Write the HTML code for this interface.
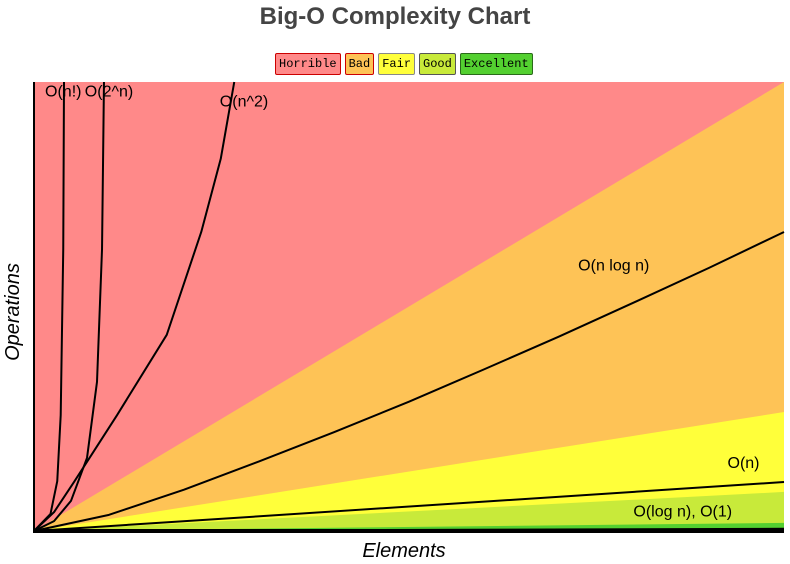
<!DOCTYPE html>
<html><head><meta charset="utf-8"><style>
body{margin:0;background:#fff;width:790px;height:564px;overflow:hidden;font-family:"Liberation Sans",sans-serif}
#title{position:absolute;left:0;width:790px;top:3px;text-align:center;font-weight:bold;font-size:24px;color:#444}
#legend{position:absolute;top:53px;left:275px;display:flex;gap:4px}
.lg{font-family:"Liberation Mono",monospace;font-size:12px;padding:2px 3px;border:1px solid;border-radius:2px;line-height:16px}
</style></head><body>
<div id="title">Big-O Complexity Chart</div>
<div id="legend">
<span class="lg" style="background:#ff8989;border-color:#c00">Horrible</span>
<span class="lg" style="background:#fec356;border-color:#c00">Bad</span>
<span class="lg" style="background:#ffff3a;border-color:#888">Fair</span>
<span class="lg" style="background:#c8ea3a;border-color:#555">Good</span>
<span class="lg" style="background:#53d030;border-color:#2a6a1a">Excellent</span>
</div>
<svg id="chart" width="790" height="564" style="position:absolute;left:0;top:0"></svg>
<script>
const regionTops=[100,26.5,8.7,1.8];
const regionColors=['#fec356','#ffff3a','#c8ea3a','#53d030'];
const factX=[0,2.2,3.1,3.56,3.9,4.0];
const factY=[0,3.8,11.1,25.8,62.8,100];
const expX=[0,2.67,4.93,7.07,8.4,9.07,9.33];
const expY=[0,2.2,6.7,16.3,33.2,62.8,100];
const sqX=[0,2.67,5.33,11.07,17.7,22.3,24.9,26.7];
const sqY=[0,4.2,10.9,25.8,43.7,66.6,82.9,100];
const nlogX=[0,10,20,30,40,50,60,70,80,90,100];
const nlogY=[0,3.6,9.2,15.5,22,28.8,36,43.3,50.9,58.6,66.6];
const linX=[0,100];
const linY=[0,10.9];
const logX=[0,100];
const logY=[0,0.5];
const labels=[['O(n!)',3.9,96.8],['O(2^n)',10,96.8],['O(n^2)',28,94.5],['O(n log n)',77.3,58],['O(n)',94.6,14],['O(log n), O(1)',86.5,3.2]];
const NS='http://www.w3.org/2000/svg',svg=document.getElementById('chart');
const X0=34,X1=784,Y0=531,Y1=82;
const sx=v=>X0+v/100*(X1-X0), sy=v=>Y0-v/100*(Y0-Y1);
function mk(t,a){const e=document.createElementNS(NS,t);for(const k in a)e.setAttribute(k,a[k]);svg.appendChild(e);return e;}
let bg=mk('rect',{x:X0,y:Y1,width:X1-X0,height:Y0-Y1,fill:'#ff8989'});


const rn=['region-bad','region-fair','region-good','region-excellent'];
regionTops.forEach((t,i)=>{const p=mk('polygon',{points:`${sx(0)},${sy(0)} ${sx(100)},${sy(t)} ${sx(100)},${sy(0)}`,fill:regionColors[i]});

});
const series=[['curve-factorial',factX,factY],['curve-exponential',expX,expY],['curve-quadratic',sqX,sqY],['curve-nlogn',nlogX,nlogY],['curve-linear',linX,linY],['curve-log',logX,logY]];
series.forEach(([n,xs,ys])=>{const pts=xs.map((x,i)=>sx(x)+','+sy(ys[i])).join(' ');
const l=mk('polyline',{points:pts,fill:'none',stroke:'#000','stroke-width':2,'stroke-linejoin':'round'});

});
labels.forEach(([t,x,y])=>{const e=mk('text',{x:sx(x),y:sy(y),'font-size':16,'text-anchor':'middle',fill:'#000','font-family':'Liberation Sans, sans-serif'});e.textContent=t;

});
let ax=mk('line',{x1:X0,y1:Y1,x2:X0,y2:Y0+2,stroke:'#000','stroke-width':2});


let bx=mk('line',{x1:X0-1,y1:Y0,x2:X1,y2:Y0,stroke:'#000','stroke-width':4});


let xt=mk('text',{x:404,y:557,'font-size':20,'font-style':'italic','text-anchor':'middle','font-family':'Liberation Sans, sans-serif'});xt.textContent='Elements';


let yt=mk('text',{x:19,y:312,'font-size':20,'font-style':'italic','text-anchor':'middle',transform:'rotate(-90 19 312)','font-family':'Liberation Sans, sans-serif'});yt.textContent='Operations';


</script>
</body></html>
